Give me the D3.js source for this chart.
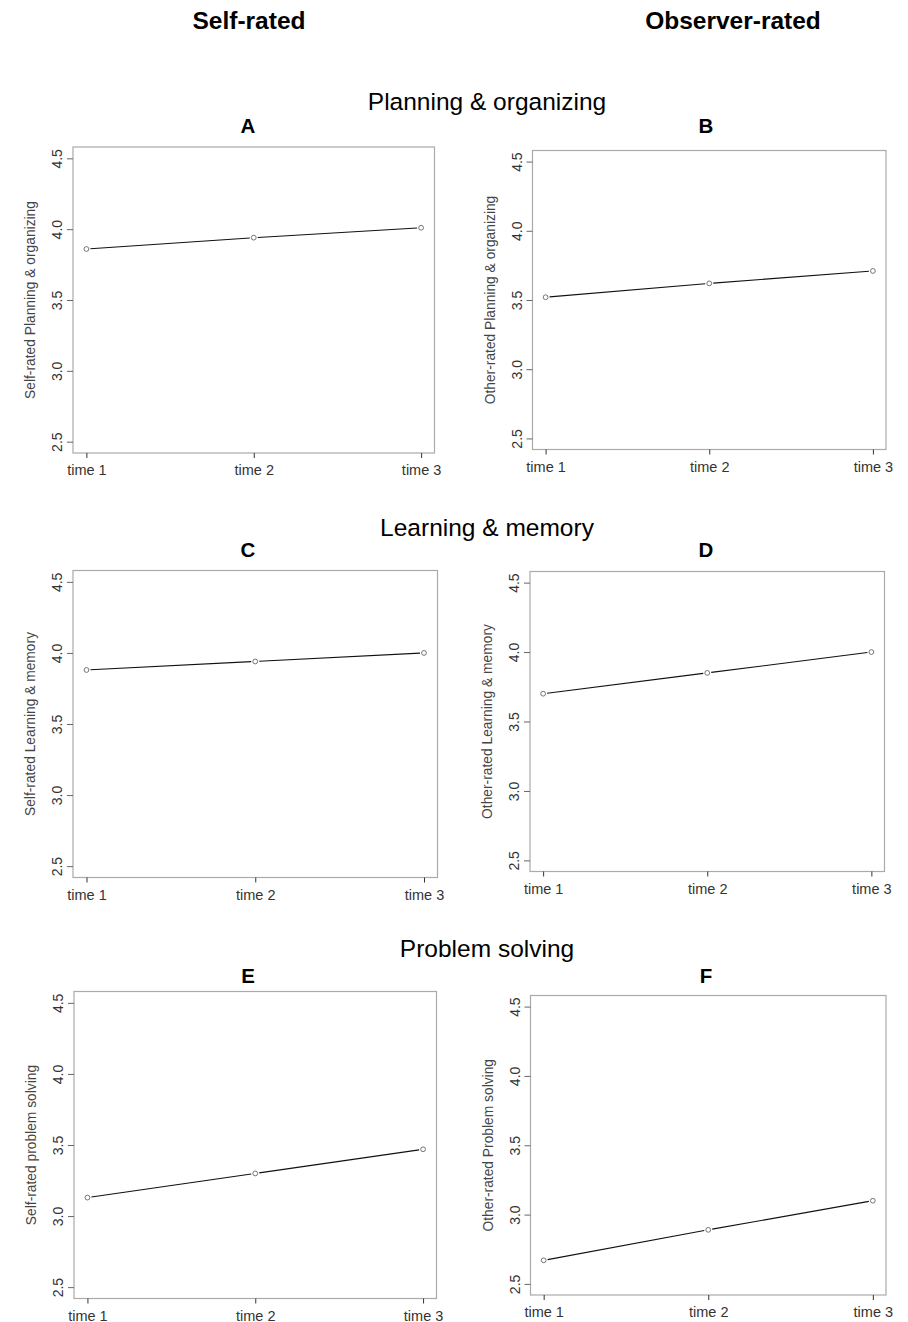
<!DOCTYPE html>
<html>
<head>
<meta charset="utf-8">
<script src="https://cdn.jsdelivr.net/npm/d3@7"></script>
<style>
  body { margin: 0; background: #fff; }
  .head { font-family: "Liberation Sans", Arial, sans-serif; fill: #000; }
  .tick-label { font-family: "Liberation Sans", Arial, sans-serif; fill: #333; }
  .axis-title { font-family: "Liberation Sans", Arial, sans-serif; fill: #444; }
</style>
</head>
<body>
<script>
// values
const timeLabels = ["time 1", "time 2", "time 3"];
const yTicks = [2.5, 3.0, 3.5, 4.0, 4.5];
const yLimits = [2.5, 4.5];
const columnHeaders = ["Self-rated", "Observer-rated"];
const domainTitles = ["Planning & organizing", "Learning & memory", "Problem solving"];
const panelLetters = ["A", "B", "C", "D", "E", "F"];
const yAxisTitles = [
  "Self-rated Planning & organizing", "Other-rated Planning & organizing",
  "Self-rated Learning & memory", "Other-rated Learning & memory",
  "Self-rated problem solving", "Other-rated Problem solving"
];
const planningSelf = [3.86, 3.94, 4.01];
const planningOther = [3.52, 3.62, 3.71];
const learningSelf = [3.88, 3.94, 4.00];
const learningOther = [3.70, 3.85, 4.00];
const problemSelf = [3.13, 3.30, 3.47];
const problemOther = [2.67, 2.89, 3.10];
const panelValues = [planningSelf, planningOther, learningSelf, learningOther, problemSelf, problemOther];

// plot boxes (x0, x1, y0, y1) for each panel
var boxes = [
  [73, 434.5, 147, 453], [532.5, 886, 150.5, 449.5],
  [73, 437.5, 570.5, 877.5], [530, 884.5, 571.5, 871.5],
  [74, 436.5, 991.5, 1298.5], [530.5, 886, 995.5, 1295]
];
var headerX = [249, 733];
var letterX = [248, 706];
var letterY = [132.7, 132.7, 556.7, 556.7, 982.7, 983.3];
var titleY = [110, 536, 957];

var svg = d3.select("body").append("svg")
    .attr("width", 908)
    .attr("height", 1322);

// column headers
svg.selectAll(".col-head")
    .data(columnHeaders)
  .enter().append("text")
    .attr("class", "head")
    .attr("x", function(d, i) { return headerX[i]; })
    .attr("y", 28.5)
    .attr("text-anchor", "middle")
    .style("font-size", "24.5px")
    .style("font-weight", "bold")
    .text(function(d) { return d; });

// row titles
svg.selectAll(".row-title")
    .data(domainTitles)
  .enter().append("text")
    .attr("class", "head")
    .attr("x", 487)
    .attr("y", function(d, i) { return titleY[i]; })
    .attr("text-anchor", "middle")
    .style("font-size", "24.5px")
    .text(function(d) { return d; });

// R pads the axis range by 4% on each side
var ext = 0.04 * (yLimits[1] - yLimits[0]);

panelValues.forEach(function(values, i) {
  var b = boxes[i];
  var col = i % 2;

  var x = d3.scalePoint()
      .domain(timeLabels)
      .range([b[0], b[1]])
      .padding(0.08);

  var y = d3.scaleLinear()
      .domain([yLimits[0] - ext, yLimits[1] + ext])
      .range([b[3], b[2]]);

  var g = svg.append("g");

  // panel letter
  g.append("text")
      .attr("class", "head")
      .attr("x", letterX[col])
      .attr("y", letterY[i])
      .attr("text-anchor", "middle")
      .style("font-size", "20.5px")
      .style("font-weight", "bold")
      .text(panelLetters[i]);

  // box
  g.append("rect")
      .attr("x", b[0])
      .attr("y", b[2])
      .attr("width", b[1] - b[0])
      .attr("height", b[3] - b[2])
      .attr("fill", "none")
      .attr("stroke", "#aaa")
      .attr("stroke-width", 1.2);

  // y axis
  var yAxis = d3.axisLeft(y)
      .tickValues(yTicks)
      .tickSize(6)
      .tickFormat(d3.format(".1f"));
  var ya = g.append("g")
      .attr("transform", "translate(" + b[0] + ",0)")
      .call(yAxis);
  ya.select(".domain").remove();
  ya.selectAll(".tick line").attr("stroke", "#666");
  ya.selectAll(".tick text")
      .attr("class", "tick-label")
      .attr("x", 0)
      .attr("y", 0)
      .attr("dy", null)
      .attr("transform", "translate(-11,0) rotate(-90)")
      .attr("text-anchor", "middle")
      .style("font-size", "14px")
      .attr("fill", "#222");

  // x axis
  var xAxis = d3.axisBottom(x).tickSize(5);
  var xa = g.append("g")
      .attr("transform", "translate(0," + b[3] + ")")
      .call(xAxis);
  xa.select(".domain").remove();
  xa.selectAll(".tick line").attr("stroke", "#333");
  xa.selectAll(".tick text")
      .attr("class", "tick-label")
      .attr("y", 22)
      .attr("dy", null)
      .style("font-size", "14.5px")
      .attr("fill", "#222");

  // y axis title
  g.append("text")
      .attr("class", "axis-title")
      .attr("transform", "translate(" + (b[0] - 38) + "," + ((b[2] + b[3]) / 2) + ") rotate(-90)")
      .attr("text-anchor", "middle")
      .style("font-size", "13.8px")
      .text(yAxisTitles[i]);

  // line segments with gaps around the points (R type = "b")
  var pts = values.map(function(v, k) { return [x(timeLabels[k]), y(v)]; });
  var gap = 4;
  g.selectAll(".seg")
      .data(d3.pairs(pts))
    .enter().append("line")
      .attr("stroke", "#111")
      .attr("stroke-width", 1.1)
      .attr("x1", function(d) { return d[0][0] + gap * unit(d)[0]; })
      .attr("y1", function(d) { return d[0][1] + gap * unit(d)[1]; })
      .attr("x2", function(d) { return d[1][0] - gap * unit(d)[0]; })
      .attr("y2", function(d) { return d[1][1] - gap * unit(d)[1]; });

  g.selectAll(".pt")
      .data(pts)
    .enter().append("circle")
      .attr("cx", function(d) { return d[0]; })
      .attr("cy", function(d) { return d[1]; })
      .attr("r", 2.4)
      .attr("fill", "none")
      .attr("stroke", "#666")
      .attr("stroke-width", 0.9);
});

function unit(d) {
  var dx = d[1][0] - d[0][0], dy = d[1][1] - d[0][1];
  var len = Math.sqrt(dx * dx + dy * dy);
  return [dx / len, dy / len];
}
</script>
</body>
</html>
